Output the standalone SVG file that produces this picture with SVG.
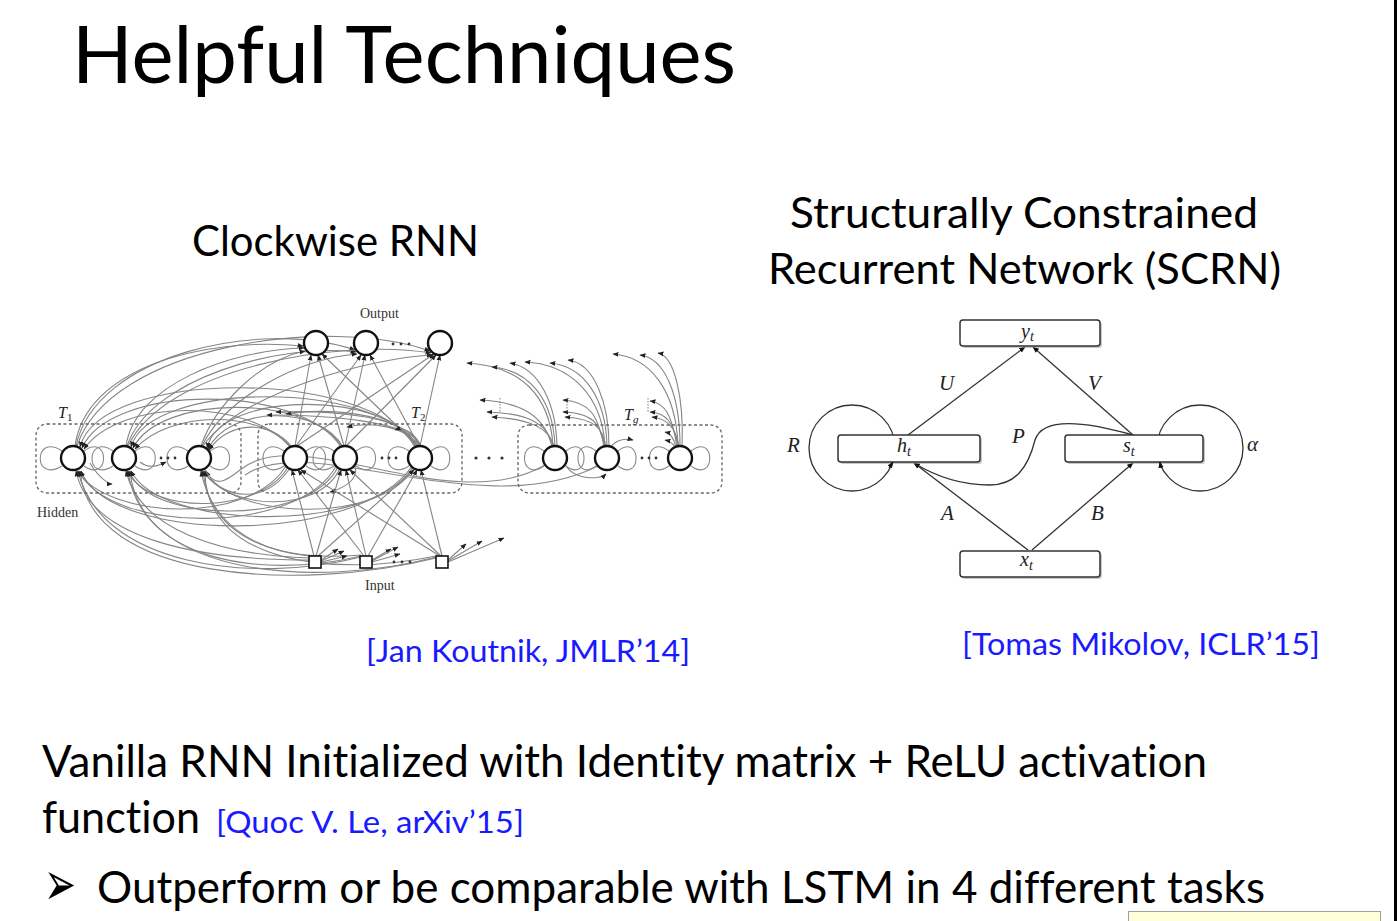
<svg xmlns="http://www.w3.org/2000/svg" width="1397" height="921" viewBox="0 0 1397 921">
<style>
.t{font-family:Lato,"Open Sans","Liberation Sans",sans-serif;fill:#000;font-variant-ligatures:none}
.cite{font-family:Lato,"Open Sans","Liberation Sans",sans-serif;fill:#1a1aff;font-variant-ligatures:none}
.m{font-family:"Liberation Serif","DejaVu Serif",serif;font-style:italic;fill:#222}
.lbl{font-family:"Liberation Serif","DejaVu Serif",serif;fill:#333}
.g{fill:none;stroke:#8a8a8a;stroke-width:1.1}
.ga{fill:none;stroke:#858585;stroke-width:1.1;marker-end:url(#ah)}
.node{fill:#fff;stroke:#111;stroke-width:2.4}
.mod{fill:none;stroke:#666;stroke-width:1.3;stroke-dasharray:3 2.5}
.box{fill:#fff;stroke:#333;stroke-width:1.5}
.sh{fill:#9a9a9a;opacity:.55}
.e{fill:none;stroke:#333;stroke-width:1.3}
.ea{fill:none;stroke:#333;stroke-width:1.3;marker-end:url(#sa)}
</style>
<defs>
<marker id="ah" viewBox="0 0 10 10" refX="9" refY="5" markerWidth="5.5" markerHeight="5.5" orient="auto"><path d="M0,1 L10,5 L0,9 z" fill="#222"/></marker>
<marker id="sa" viewBox="0 0 10 10" refX="9" refY="5" markerWidth="5" markerHeight="5" orient="auto"><path d="M0,1 L10,5 L0,9 z" fill="#111"/></marker>
</defs>
<rect width="1397" height="921" fill="#fff"/>
<rect x="1394" y="0" width="3" height="921" fill="#000"/>

<text class="t" x="72" y="83" font-size="80" textLength="664" lengthAdjust="spacingAndGlyphs">Helpful Techniques</text>
<text class="t" x="192" y="256" font-size="42" textLength="287" lengthAdjust="spacingAndGlyphs">Clockwise RNN</text>
<text class="t" x="790" y="228" font-size="42" textLength="468" lengthAdjust="spacingAndGlyphs">Structurally Constrained</text>
<text class="t" x="768" y="284" font-size="42" textLength="513" lengthAdjust="spacingAndGlyphs">Recurrent Network (SCRN)</text>
<text class="cite" x="366" y="662" font-size="30" textLength="324" lengthAdjust="spacingAndGlyphs">[Jan Koutnik, JMLR’14]</text>
<text class="cite" x="962" y="655" font-size="30" textLength="358" lengthAdjust="spacingAndGlyphs">[Tomas Mikolov, ICLR’15]</text>
<text class="t" x="42" y="777" font-size="44" textLength="1165" lengthAdjust="spacingAndGlyphs">Vanilla RNN Initialized with Identity matrix + ReLU activation</text>
<text class="t" x="42" y="833" font-size="44" textLength="158" lengthAdjust="spacingAndGlyphs">function</text>
<text class="cite" x="216" y="833" font-size="30" textLength="308" lengthAdjust="spacingAndGlyphs">[Quoc V. Le, arXiv’15]</text>
<text x="44" y="905" font-family="DejaVu Sans,sans-serif" font-size="62" fill="#000" textLength="32" lengthAdjust="spacingAndGlyphs">➢</text>
<text class="t" x="97" y="903" font-size="44" textLength="1168" lengthAdjust="spacingAndGlyphs">Outperform or be comparable with LSTM in 4 different tasks</text>
<rect x="1128.5" y="911.5" width="252" height="14" fill="#ffffd9" stroke="#a0a0a0" stroke-width="1"/>

<!-- ===== Clockwise RNN ===== -->
<g id="cw-connectors">
<!-- self loops -->
<path class="g" d="M62,451 C34,432 32,484 62,466 M84,451 C110,432 110,484 84,466"/>
<path class="g" d="M113,451 C86,432 84,484 113,466 M135,451 C162,432 162,484 135,466"/>
<path class="g" d="M188,451 C160,432 160,484 188,466 M210,451 C236,432 236,484 210,466"/>
<path class="g" d="M284,451 C256,432 256,484 284,466 M306,451 C332,432 332,484 306,466"/>
<path class="g" d="M334,451 C306,432 306,484 334,466 M356,451 C382,432 382,484 356,466"/>
<path class="g" d="M409,451 C381,432 381,484 409,466 M431,451 C456,432 456,484 431,466"/>
<path class="g" d="M544,451 C518,432 518,484 544,466 M566,451 C590,432 590,484 566,466"/>
<path class="g" d="M596,451 C572,432 572,484 596,466 M618,451 C642,432 642,484 618,466"/>
<path class="g" d="M669,451 C643,432 643,484 669,466 M691,451 C716,432 716,484 691,466"/>
<path class="ga" d="M90,463 C100,480 110,484 112,484"/>
<path class="ga" d="M140,462 C150,470 160,465 166,462"/>
<path class="ga" d="M355,466 C360,485 330,492 330,492"/>
<path class="ga" d="M566,466 C575,480 600,480 606,474"/>

<!-- T1 -> outputs -->
<path class="ga" d="M75,446 C85,370 200,336 303,346"/>
<path class="ga" d="M76,446 C95,355 260,318 355,350"/>
<path class="ga" d="M77,446 C110,345 330,315 430,351"/>
<path class="ga" d="M126,446 C135,385 230,350 304,348"/>
<path class="ga" d="M127,446 C150,378 280,343 356,352"/>
<path class="ga" d="M128,446 C165,368 340,338 431,353"/>
<path class="ga" d="M201,446 C215,405 260,360 305,351"/>
<path class="ga" d="M202,446 C225,398 300,358 357,354"/>
<path class="ga" d="M203,446 C240,393 370,358 432,355"/>

<!-- T2 -> outputs -->
<path class="ga" d="M295,446 L311,355"/>
<path class="ga" d="M296,446 L361,355"/>
<path class="ga" d="M297,446 L434,354"/>
<path class="ga" d="M344,446 L318,355"/>
<path class="ga" d="M345,446 L365,355"/>
<path class="ga" d="M346,446 L436,355"/>
<path class="ga" d="M418,446 L322,354"/>
<path class="ga" d="M419,446 L370,355"/>
<path class="ga" d="M420,446 L440,355"/>

<!-- T2 -> T1 arcs -->
<path class="ga" d="M290,447 C250,398 120,398 84,449"/>
<path class="ga" d="M291,447 C260,410 170,410 135,449"/>
<path class="ga" d="M292,447 C270,420 230,420 209,450"/>
<path class="ga" d="M341,447 C300,383 110,383 82,448"/>
<path class="ga" d="M342,447 C310,394 160,394 133,448"/>
<path class="ga" d="M343,447 C320,405 230,405 208,449"/>
<path class="ga" d="M415,447 C370,368 100,368 80,447"/>
<path class="ga" d="M416,447 C380,380 150,380 131,447"/>
<path class="ga" d="M417,447 C390,390 220,390 207,448"/>
<path class="ga" d="M418,447 C400,410 320,408 286,414"/>
<path class="ga" d="M420,447 C410,415 330,410 276,412"/>
<path class="ga" d="M421,447 C415,420 320,415 267,415"/>
<path class="ga" d="M420,447 C405,425 370,422 347,427"/>
<path class="ga" d="M421,446 C412,428 400,428 395,430"/>

<!-- T2/Tg -> T1 lower bundle -->
<path class="ga" d="M286,466 C250,525 110,520 77,471"/>
<path class="ga" d="M288,467 C260,515 150,515 127,471"/>
<path class="ga" d="M290,468 C265,505 225,500 202,471"/>
<path class="ga" d="M336,466 C300,535 110,535 79,471"/>
<path class="ga" d="M338,467 C310,525 150,525 129,471"/>
<path class="ga" d="M340,468 C320,515 225,510 204,471"/>
<path class="ga" d="M412,466 C360,545 110,545 81,471"/>
<path class="ga" d="M413,467 C370,535 160,530 131,471"/>
<path class="ga" d="M414,468 C380,525 230,520 206,471"/>
<path class="g" d="M545,465 C450,520 300,420 240,470 C225,482 215,488 205,470"/>
<path class="g" d="M598,466 C480,525 310,430 245,475"/>

<!-- inputs -> T1 -->
<path class="ga" d="M309,560 C200,560 90,540 76,471"/>
<path class="ga" d="M309,558 C220,555 140,530 126,471"/>
<path class="ga" d="M309,556 C250,550 210,520 201,471"/>
<path class="ga" d="M361,557 C250,585 100,565 78,471"/>
<path class="ga" d="M361,556 C260,580 140,560 128,471"/>
<path class="ga" d="M361,555 C280,562 210,540 203,471"/>
<path class="ga" d="M436,558 C300,592 90,582 80,471"/>
<path class="ga" d="M436,557 C320,588 140,578 130,471"/>
<path class="ga" d="M436,556 C330,578 205,562 205,471"/>

<!-- inputs -> T2 -->
<path class="ga" d="M314,556 L292,470"/>
<path class="ga" d="M316,556 L341,470"/>
<path class="ga" d="M318,556 L414,470"/>
<path class="ga" d="M364,556 L298,470"/>
<path class="ga" d="M366,556 L346,470"/>
<path class="ga" d="M368,556 L417,470"/>
<path class="ga" d="M440,556 L301,470"/>
<path class="ga" d="M441,556 L350,470"/>
<path class="ga" d="M442,556 L421,470"/>

<!-- inputs -> right (truncated) -->
<path class="ga" d="M321,560 L338,549"/>
<path class="ga" d="M321,561 L344,551"/>
<path class="ga" d="M321,562 L347,556"/>
<path class="ga" d="M372,560 L391,549"/>
<path class="ga" d="M372,561 L398,547"/>
<path class="ga" d="M372,562 L400,554"/>
<path class="ga" d="M448,560 L466,544"/>
<path class="ga" d="M448,561 L482,541"/>
<path class="ga" d="M448,562 L504,538"/>

<!-- Tg -> up-left (truncated) -->
<path class="ga" d="M553,446 C550,395 520,366 467,363"/>
<path class="ga" d="M555,446 C553,400 530,370 492,367"/>
<path class="ga" d="M557,446 C556,405 540,368 510,363"/>
<path class="ga" d="M552,447 C545,415 520,402 480,400"/>
<path class="ga" d="M553,447 C548,422 525,413 487,412"/>
<path class="ga" d="M554,447 C550,428 530,419 492,417"/>
<path class="ga" d="M605,446 C602,395 570,364 525,362"/>
<path class="ga" d="M607,446 C606,400 585,366 550,363"/>
<path class="ga" d="M609,446 C609,405 595,363 568,360"/>
<path class="ga" d="M604,447 C598,415 590,402 563,400"/>
<path class="ga" d="M605,447 C600,422 592,413 563,412"/>
<path class="ga" d="M606,447 C603,428 595,419 565,417"/>
<path class="ga" d="M610,448 C615,440 625,438 633,440"/>
<path class="ga" d="M678,446 C676,390 650,357 613,354"/>
<path class="ga" d="M680,446 C680,395 665,358 640,355"/>
<path class="ga" d="M682,446 C684,400 675,356 658,353"/>
<path class="ga" d="M677,447 C672,415 665,403 650,401"/>
<path class="ga" d="M678,447 C674,422 666,413 650,412"/>
<path class="ga" d="M679,447 C676,428 668,419 652,417"/>
<path class="ga" d="M676,448 C674,438 670,433 665,432"/>
<path class="ga" d="M676,449 C674,444 670,441 665,440"/>
<path class="g" d="M500,398 L500,412 M567,398 L567,412 M648,398 L648,412" stroke-dasharray="1.5 1.5"/>
</g>

<g id="cw-modules">
<rect class="mod" x="36" y="424" width="205" height="69" rx="11"/>
<rect class="mod" x="258" y="424" width="204" height="69" rx="11"/>
<rect class="mod" x="518" y="425" width="204" height="68" rx="11"/>
<text class="m" x="58" y="418" font-size="16">T<tspan font-size="11" dy="3" font-style="normal">1</tspan></text>
<text class="m" x="411" y="418" font-size="16">T<tspan font-size="11" dy="3" font-style="normal">2</tspan></text>
<text class="m" x="624" y="420" font-size="16">T<tspan font-size="11" dy="3">g</tspan></text>
<text class="lbl" x="37" y="517" font-size="14">Hidden</text>
<text class="lbl" x="360" y="318" font-size="14">Output</text>
<text class="lbl" x="365" y="590" font-size="14">Input</text>
</g>
<g id="cw-hidden">
<circle class="node" cx="73" cy="458" r="12"/>
<circle class="node" cx="124" cy="458" r="12"/>
<circle class="node" cx="199" cy="458" r="12"/>
<circle class="node" cx="295" cy="458" r="12"/>
<circle class="node" cx="345" cy="458" r="12"/>
<circle class="node" cx="420" cy="458" r="12"/>
<circle class="node" cx="555" cy="458" r="12"/>
<circle class="node" cx="607" cy="458" r="12"/>
<circle class="node" cx="680" cy="458" r="12"/>
<g fill="#333"><circle cx="161" cy="458" r="1.4"/><circle cx="168" cy="458" r="1.4"/><circle cx="175" cy="458" r="1.4"/>
<circle cx="382" cy="458" r="1.4"/><circle cx="389" cy="458" r="1.4"/><circle cx="396" cy="458" r="1.4"/>
<circle cx="642" cy="458" r="1.4"/><circle cx="649" cy="458" r="1.4"/><circle cx="656" cy="458" r="1.4"/>
<circle cx="476" cy="458" r="1.6"/><circle cx="489" cy="458" r="1.6"/><circle cx="502" cy="458" r="1.6"/></g>
</g>
<g id="cw-output">
<circle class="node" cx="316" cy="343" r="12"/>
<circle class="node" cx="366" cy="343" r="12"/>
<circle class="node" cx="440" cy="343" r="12"/>
<g fill="#333"><circle cx="393" cy="344" r="1.4"/><circle cx="401" cy="344" r="1.4"/><circle cx="409" cy="344" r="1.4"/></g>
</g>
<g id="cw-input">
<rect x="309" y="556" width="12" height="12" fill="#fff" stroke="#111" stroke-width="1.6"/>
<rect x="360" y="556" width="12" height="12" fill="#fff" stroke="#111" stroke-width="1.6"/>
<rect x="436" y="556" width="12" height="12" fill="#fff" stroke="#111" stroke-width="1.6"/>
<g fill="#333"><circle cx="394" cy="562" r="1.4"/><circle cx="402" cy="562" r="1.4"/><circle cx="410" cy="562" r="1.4"/></g>
</g>

<!-- ===== SCRN ===== -->
<g id="scrn-connectors">
<circle class="e" cx="852" cy="448" r="43"/>
<circle class="e" cx="1200" cy="448" r="43"/>
<path class="ea" d="M908,435 L1025,347"/>
<path class="ea" d="M1133,435 L1033,347"/>
<path class="ea" d="M1028,550 L914,463"/>
<path class="ea" d="M1032,550 L1133,463"/>
<path class="ea" d="M1133,435 C1080,420 1042,418 1035,440 C1028,468 1015,485 990,485 C960,485 935,476 914,463"/>
</g>
<g id="scrn-y">
<rect class="sh" x="962" y="322" width="140" height="26" rx="3"/>
<rect class="box" x="960" y="320" width="140" height="26" rx="3"/>
<text class="m" x="1021" y="338" font-size="20">y<tspan font-size="14" dy="3">t</tspan></text>
</g>
<g id="scrn-h">
<rect class="sh" x="840" y="437" width="142" height="27" rx="3"/>
<rect class="box" x="838" y="435" width="142" height="27" rx="3"/>
<text class="m" x="897" y="452" font-size="20">h<tspan font-size="14" dy="4">t</tspan></text>
</g>
<g id="scrn-s">
<rect class="sh" x="1067" y="437" width="138" height="27" rx="3"/>
<rect class="box" x="1065" y="435" width="138" height="27" rx="3"/>
<text class="m" x="1123" y="452" font-size="20">s<tspan font-size="14" dy="4">t</tspan></text>
</g>
<g id="scrn-x">
<rect class="sh" x="962" y="553" width="140" height="26" rx="3"/>
<rect class="box" x="960" y="551" width="140" height="26" rx="3"/>
<text class="m" x="1020" y="566" font-size="20">x<tspan font-size="14" dy="4">t</tspan></text>
</g>
<g id="scrn-labels">
<path class="ea" d="M889,468 L893,462" stroke-width="0.1"/>
<path class="ea" d="M1161,468 L1160,462" stroke-width="0.1"/>
<text class="m" x="787" y="452" font-size="21">R</text>
<text class="m" x="939" y="390" font-size="21">U</text>
<text class="m" x="1088" y="390" font-size="21">V</text>
<text class="m" x="1012" y="443" font-size="21">P</text>
<text class="m" x="941" y="520" font-size="21">A</text>
<text class="m" x="1091" y="520" font-size="21">B</text>
<text class="m" x="1247" y="451" font-size="21">α</text>
</g>
</svg>
